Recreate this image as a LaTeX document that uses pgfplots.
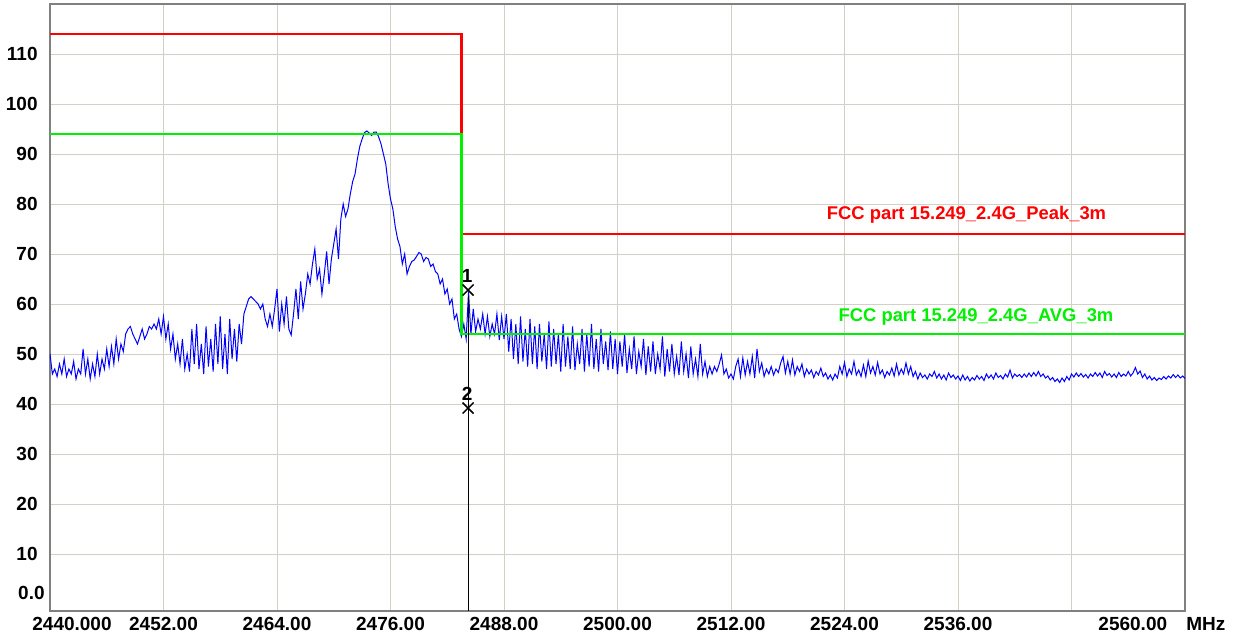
\documentclass[border=0pt]{standalone}
\usepackage{pgfplots}
\pgfplotsset{compat=1.18}
\usepackage{pgfplotstable}
\usepackage{fontspec}
\setmainfont{Liberation Sans}
\definecolor{gridc}{RGB}{212,208,200}
\definecolor{framec}{RGB}{128,128,128}
\definecolor{limred}{RGB}{255,0,0}
\definecolor{limgreen}{RGB}{0,240,0}
\definecolor{tracec}{RGB}{0,0,255}

\pgfplotstableread{
f v
2440.00 50
2440.25 46
2440.50 47
2440.75 45.5
2441.00 48
2441.25 46
2441.50 49
2441.75 45.5
2442.00 47
2442.25 46
2442.50 48.5
2442.75 45
2443.00 47
2443.25 46
2443.50 51
2443.75 46
2444.00 49
2444.25 45
2444.50 48
2444.75 45.5
2445.00 50
2445.25 46
2445.50 49
2445.75 47
2446.00 51
2446.25 47.5
2446.50 51.5
2446.75 48
2447.00 53
2447.25 49
2447.50 52
2447.75 50.5
2448.00 54
2448.25 55
2448.50 55.5
2448.75 54
2449.00 53
2449.25 52
2449.50 53.5
2449.75 55
2450.00 53
2450.25 54
2450.50 55.5
2450.75 55
2451.00 56
2451.25 55
2451.50 57
2451.75 54
2452.00 57.5
2452.25 53
2452.50 56
2452.75 51
2453.00 54
2453.25 49
2453.50 52
2453.75 48
2454.00 53
2454.25 47
2454.50 50
2454.75 46.5
2455.00 55
2455.25 48
2455.50 56
2455.75 47
2456.00 52
2456.25 46
2456.50 55.5
2456.75 47.5
2457.00 53
2457.25 46.5
2457.50 56
2457.75 48
2458.00 57.5
2458.25 47
2458.50 54
2458.75 46
2459.00 57
2459.25 49
2459.50 55
2459.75 48.5
2460.00 56
2460.25 52
2460.50 58
2460.75 59.5
2461.00 61
2461.25 61.5
2461.50 61
2461.75 60.5
2462.00 60
2462.25 59
2462.50 60
2462.75 57
2463.00 55.5
2463.25 58
2463.50 55.5
2463.75 59
2464.00 63
2464.25 54.5
2464.50 60
2464.75 56
2465.00 61.5
2465.25 55
2465.50 53.8
2465.75 58
2466.00 63
2466.25 57
2466.50 64.5
2466.75 59
2467.00 62
2467.25 66
2467.50 64
2467.75 68
2468.00 71
2468.25 65
2468.50 67
2468.75 62
2469.00 66
2469.25 70.5
2469.50 64
2469.75 69
2470.00 72
2470.25 75
2470.50 69
2470.75 77
2471.00 80
2471.25 77.5
2471.50 79
2471.75 82
2472.00 84.5
2472.25 86
2472.50 89
2472.75 91.5
2473.00 93
2473.25 94.3
2473.50 94.6
2473.75 94.2
2474.00 93.7
2474.25 94.4
2474.50 94.4
2474.75 93.4
2475.00 92
2475.25 90
2475.50 88
2475.75 84
2476.00 81
2476.25 79
2476.50 75.5
2476.75 73
2477.00 71.5
2477.25 68
2477.50 70
2477.75 66
2478.00 67.5
2478.25 68.5
2478.50 68.8
2478.75 69.5
2479.00 70.3
2479.25 70
2479.50 68.5
2479.75 69.3
2480.00 69
2480.25 67.5
2480.50 68
2480.75 66.5
2481.00 66
2481.25 64
2481.50 65
2481.75 62
2482.00 63
2482.25 60
2482.50 61
2482.75 57
2483.00 58
2483.25 55
2483.50 53.5
2483.75 56
2484.00 53
2484.25 62.5
2484.50 54
2484.75 59
2485.00 54.5
2485.25 57
2485.50 55
2485.75 58
2486.00 54
2486.25 57.5
2486.50 53.5
2486.75 56
2487.00 54
2487.25 58
2487.50 52.8
2487.75 57.5
2488.00 53
2488.25 58
2488.50 50.5
2488.75 57
2489.00 49
2489.25 56
2489.50 48
2489.75 57.5
2490.00 48.5
2490.25 55
2490.50 47.5
2490.75 57
2491.00 48
2491.25 55.5
2491.50 47
2491.75 56
2492.00 48.5
2492.25 54
2492.50 47
2492.75 56.5
2493.00 47.5
2493.25 55
2493.50 48
2493.75 54
2494.00 46.5
2494.25 56
2494.50 47.5
2494.75 53.5
2495.00 47
2495.25 55.5
2495.50 46.8
2495.75 52
2496.00 48
2496.25 55
2496.50 46.5
2496.75 54
2497.00 47.5
2497.25 56
2497.50 47
2497.75 53
2498.00 46.5
2498.25 55
2498.50 48
2498.75 52.5
2499.00 46.8
2499.25 54.5
2499.50 47
2499.75 53
2500.00 46
2500.25 52.5
2500.50 47.5
2500.75 54
2501.00 46.2
2501.25 51
2501.50 47
2501.75 53.5
2502.00 46
2502.25 50.5
2502.50 47.5
2502.75 53
2503.00 45.8
2503.25 51.5
2503.50 46.5
2503.75 52.5
2504.00 46
2504.25 50
2504.50 47
2504.75 53.5
2505.00 45.5
2505.25 51
2505.50 46.5
2505.75 52
2506.00 46
2506.25 49.5
2506.50 45.8
2506.75 52.5
2507.00 46.5
2507.25 50
2507.50 45.2
2507.75 51.5
2508.00 46
2508.25 49
2508.50 45.5
2508.75 52
2509.00 46
2509.25 48.5
2509.50 45.5
2509.75 47.5
2510.00 46
2510.25 47.5
2510.50 46.5
2510.75 48
2511.00 49.8
2511.25 46
2511.50 47
2511.75 45.2
2512.00 46
2512.25 45
2512.50 47.5
2512.75 49
2513.00 45.5
2513.25 49.2
2513.50 45.8
2513.75 48.5
2514.00 46
2514.25 49.5
2514.50 45.2
2514.75 51
2515.00 46.5
2515.25 48.2
2515.50 45.5
2515.75 47
2516.00 46
2516.25 47.5
2516.50 45.8
2516.75 47
2517.00 46.3
2517.25 48.2
2517.50 49.5
2517.75 46.2
2518.00 48.5
2518.25 46
2518.50 48.8
2518.75 45.8
2519.00 47.5
2519.25 46.5
2519.50 48
2519.75 45.5
2520.00 47
2520.25 46
2520.50 46.8
2520.75 45.3
2521.00 46.5
2521.25 45.8
2521.50 47.2
2521.75 45.5
2522.00 46.2
2522.25 45
2522.50 45.8
2522.75 44.8
2523.00 46
2523.25 45.2
2523.50 47.5
2523.75 46
2524.00 48.3
2524.25 45.5
2524.50 47
2524.75 46
2525.00 48.5
2525.25 45.8
2525.50 46.8
2525.75 45.5
2526.00 47.8
2526.25 45.5
2526.50 48.6
2526.75 46.2
2527.00 47.5
2527.25 45.8
2527.50 48.3
2527.75 46
2528.00 46.8
2528.25 45.3
2528.50 46.5
2528.75 45.8
2529.00 47.2
2529.25 45.6
2529.50 48
2529.75 45.8
2530.00 47
2530.25 46
2530.50 48.2
2530.75 46
2531.00 47.5
2531.25 45.5
2531.50 46.5
2531.75 45
2532.00 46.2
2532.25 45.3
2532.50 45.8
2532.75 45
2533.00 46
2533.25 45.5
2533.50 46.5
2533.75 45.2
2534.00 46
2534.25 45
2534.50 45.8
2534.75 44.8
2535.00 46.2
2535.25 45.3
2535.50 45.8
2535.75 45
2536.00 45.6
2536.25 44.7
2536.50 45.8
2536.75 44.8
2537.00 45.5
2537.25 44.6
2537.50 45.3
2537.75 44.8
2538.00 45.7
2538.25 45
2538.50 45.5
2538.75 44.7
2539.00 46
2539.25 45.2
2539.50 45.8
2539.75 45
2540.00 46.2
2540.25 45.3
2540.50 45.7
2540.75 45
2541.00 46
2541.25 45.4
2541.50 46.8
2541.75 45.2
2542.00 46
2542.25 45.5
2542.50 45.9
2542.75 45.3
2543.00 46
2543.25 45.4
2543.50 46.2
2543.75 45.5
2544.00 46.3
2544.25 45.6
2544.50 46.5
2544.75 45.5
2545.00 46
2545.25 45.2
2545.50 45.6
2545.75 44.8
2546.00 45.3
2546.25 44.5
2546.50 45
2546.75 44.3
2547.00 45.2
2547.25 44.5
2547.50 45.5
2547.75 44.8
2548.00 46
2548.25 45.4
2548.50 46.2
2548.75 45.5
2549.00 46.1
2549.25 45.4
2549.50 45.9
2549.75 45.2
2550.00 46
2550.25 45.5
2550.50 46.3
2550.75 45.6
2551.00 46.2
2551.25 45.3
2551.50 46.5
2551.75 45.7
2552.00 46.1
2552.25 45.4
2552.50 46
2552.75 45.3
2553.00 46.3
2553.25 45.5
2553.50 46
2553.75 45.6
2554.00 46.5
2554.25 45.6
2554.50 46.2
2554.75 47.3
2555.00 46
2555.25 46.6
2555.50 45.3
2555.75 46
2556.00 45
2556.25 45.6
2556.50 44.8
2556.75 45.3
2557.00 44.7
2557.25 45.2
2557.50 44.9
2557.75 45.5
2558.00 45
2558.25 45.6
2558.50 45.2
2558.75 45.9
2559.00 45.3
2559.25 45.8
2559.50 45.2
2559.75 45.6
2560.00 45.1
}\tracedata

\pgfplotstableread{
f v
2440 114
2483.5 114
2483.5 74
2560 74
}\peaklimit

\pgfplotstableread{
f v
2440 94
2483.5 94
2483.5 54
2560 54
}\avglimit

\newcommand{\tlfont}{\fontsize{9.5}{11}\selectfont\bfseries}

\begin{document}
\begin{tikzpicture}
\path[use as bounding box] (-25pt,-14pt) rectangle (592pt,305.5pt);
\begin{axis}[
  at={(0,0)}, anchor=south west,
  scale only axis, width=567.5pt, height=303.5pt,
  xmin=2440, xmax=2560, ymin=-1.4, ymax=120,
  clip mode=individual,
  xtick={2440,2452,...,2548},
  xticklabels={\hspace*{22pt}2440.000, 2452.00, 2464.00, 2476.00, 2488.00, 2500.00, 2512.00, 2524.00, 2536.00, {}},
  ytick={10,20,...,110},
  yticklabels={10,20,30,40,50,60,70,80,90,100,110},
  extra y ticks={0}, extra y tick labels={0.0},
  extra y tick style={grid=none, yticklabel style={yshift=5.5pt, xshift=3.5pt}},
  major tick length=0pt, tick style={draw=none},
  grid=major, major grid style={gridc, line width=0.5pt},
  axis line style={framec, line width=1pt},
  tick label style={font=\tlfont, inner sep=0pt, text=black},
  xticklabel style={yshift=-3pt},
  yticklabel style={xshift=-6pt},
]
\addplot[tracec, line width=0.5pt] table[x=f, y=v] {\tracedata};
\addplot[limred, line width=1.2pt] table[x=f, y=v] {\peaklimit};
\addplot[limgreen, line width=1.2pt] table[x=f, y=v] {\avglimit};
\addplot[black, line width=0.5pt] coordinates {(2484.2,61.6) (2484.2,-1.4)};
\addplot[black, only marks, mark=x, mark size=3.9pt, mark options={line width=0.75pt},
  nodes near coords={1},
  every node near coord/.append style={anchor=south, inner sep=0pt, yshift=3.3pt, xshift=-0.5pt, font=\tlfont}]
  coordinates {(2484.2,62.8)};
\addplot[black, only marks, mark=x, mark size=3.9pt, mark options={line width=0.75pt},
  nodes near coords={2},
  every node near coord/.append style={anchor=south, inner sep=0pt, yshift=3.3pt, xshift=-0.5pt, font=\tlfont}]
  coordinates {(2484.2,39.2)};
\node[limred, font=\fontsize{9.2}{11}\selectfont\bfseries] at (axis cs:2536.9,77.8) {FCC part 15.249\_2.4G\_Peak\_3m};
\node[limgreen, font=\fontsize{9.2}{11}\selectfont\bfseries] at (axis cs:2537.9,57.5) {FCC part 15.249\_2.4G\_AVG\_3m};
\node[anchor=north, inner sep=0pt, yshift=-3pt, font=\tlfont] at (rel axis cs:0.954,0) {2560.00};
\node[anchor=north west, inner sep=0pt, xshift=0.5pt, yshift=-3pt, font=\tlfont] at (rel axis cs:1,0) {MHz};
\end{axis}
\end{tikzpicture}
\end{document}
